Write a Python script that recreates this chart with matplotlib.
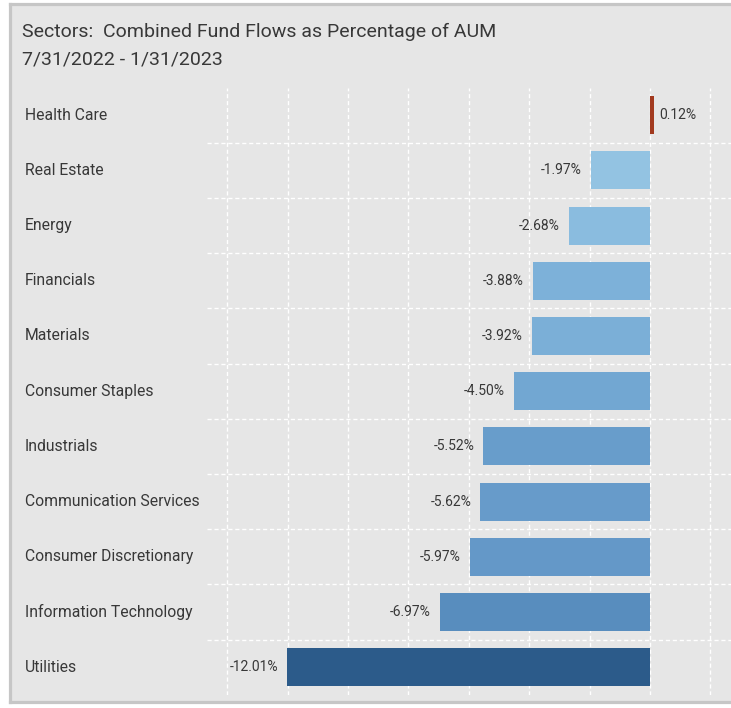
import numpy as np
import matplotlib.pyplot as plt
from matplotlib.patches import Rectangle
from matplotlib.lines import Line2D
from matplotlib.transforms import blended_transform_factory

# data, top to bottom
sectors = ["Health Care", "Real Estate", "Energy", "Financials", "Materials",
           "Consumer Staples", "Industrials", "Communication Services",
           "Consumer Discretionary", "Information Technology", "Utilities"]
flows_pct = [0.12, -1.97, -2.68, -3.88, -3.92, -4.50, -5.52, -5.62, -5.97, -6.97, -12.01]
grid_ticks = [-14, -12, -10, -8, -6, -4, -2, 0, 2]

bar_colors = ["#A23A1F", "#93C3E2", "#8ABCDF", "#7DB1D9", "#7BAFD7", "#72A7D2",
              "#689DCB", "#679BCA", "#6498C8", "#588DBE", "#2C5B8A"]

plt.rcParams["font.family"] = ["Roboto", "DejaVu Sans"]
W, H = 731, 708
fig = plt.figure(figsize=(W / 100, H / 100), dpi=100, facecolor="white")

# panel background with grey frame (top, left, bottom only)
x0, y0, y1 = 9.5, 4, 701.5
fig.patches.append(Rectangle((x0 / W, 1 - y1 / H), 1.0, (y1 - y0) / H, transform=fig.transFigure,
                             facecolor="#e6e6e6", edgecolor="none", zorder=-5))
frame = dict(transform=fig.transFigure, color="#c6c6c6", linewidth=2.3, zorder=-4,
             solid_capstyle="projecting")
fig.lines.append(Line2D([x0 / W, 1.01], [1 - y0 / H, 1 - y0 / H], **frame))
fig.lines.append(Line2D([x0 / W, 1.01], [1 - y1 / H, 1 - y1 / H], **frame))
fig.lines.append(Line2D([x0 / W, x0 / W], [1 - y0 / H, 1 - y1 / H], **frame))

fig.text(22 / W, 1 - 32 / H, "Sectors:  Combined Fund Flows as Percentage of AUM",
         fontsize=14, color="#383838", va="center", ha="left")
fig.text(22 / W, 1 - 59 / H, "7/31/2022 - 1/31/2023",
         fontsize=14, color="#383838", va="center", ha="left")

ax_left, ax_right, ax_top, ax_bot = 207, 731, 87.6, 694.8
ax = fig.add_axes([ax_left / W, 1 - ax_bot / H, (ax_right - ax_left) / W, (ax_bot - ax_top) / H])
ax.set_facecolor("none")
ax.set_zorder(2)

y = np.arange(len(sectors))
ax.barh(y, flows_pct, height=0.69, color=bar_colors, zorder=3)
ax.set_ylim(len(sectors) - 0.5, -0.5)
px_per_pct = 30.2
ax.set_xlim((ax_left - 650) / px_per_pct, (ax_right - 650) / px_per_pct)

ax.set_xticks(grid_ticks)
ax.set_yticks([])
ax.set_yticks(y[:-1] + 0.5, minor=True)
ax.xaxis.grid(True, color="white", linestyle=(0, (3, 2)), linewidth=1, zorder=1)
ax.yaxis.grid(True, which="minor", color="white", linestyle=(0, (3, 2)), linewidth=1, zorder=1)
ax.set_axisbelow(True)
ax.tick_params(axis="both", which="both", length=0, labelbottom=False, labelleft=False)
for s in ax.spines.values():
    s.set_visible(False)

# sector names, left aligned at the panel edge
trans = blended_transform_factory(fig.transFigure, ax.transData)
for yi, name in zip(y, sectors):
    ax.text(25 / W, yi, name, transform=trans, fontsize=11.3, color="#383838",
            ha="left", va="center")

for yi, v in zip(y, flows_pct):
    if v < 0:
        ax.annotate(f"{v:.2f}%", (v, yi), xytext=(-6.5, 0), textcoords="offset points",
                    ha="right", va="center", fontsize=10, color="#383838")
    else:
        ax.annotate(f"{v:.2f}%", (v, yi), xytext=(4, 0), textcoords="offset points",
                    ha="left", va="center", fontsize=10, color="#383838")

fig.savefig("out.png", dpi=100, facecolor=fig.get_facecolor())
